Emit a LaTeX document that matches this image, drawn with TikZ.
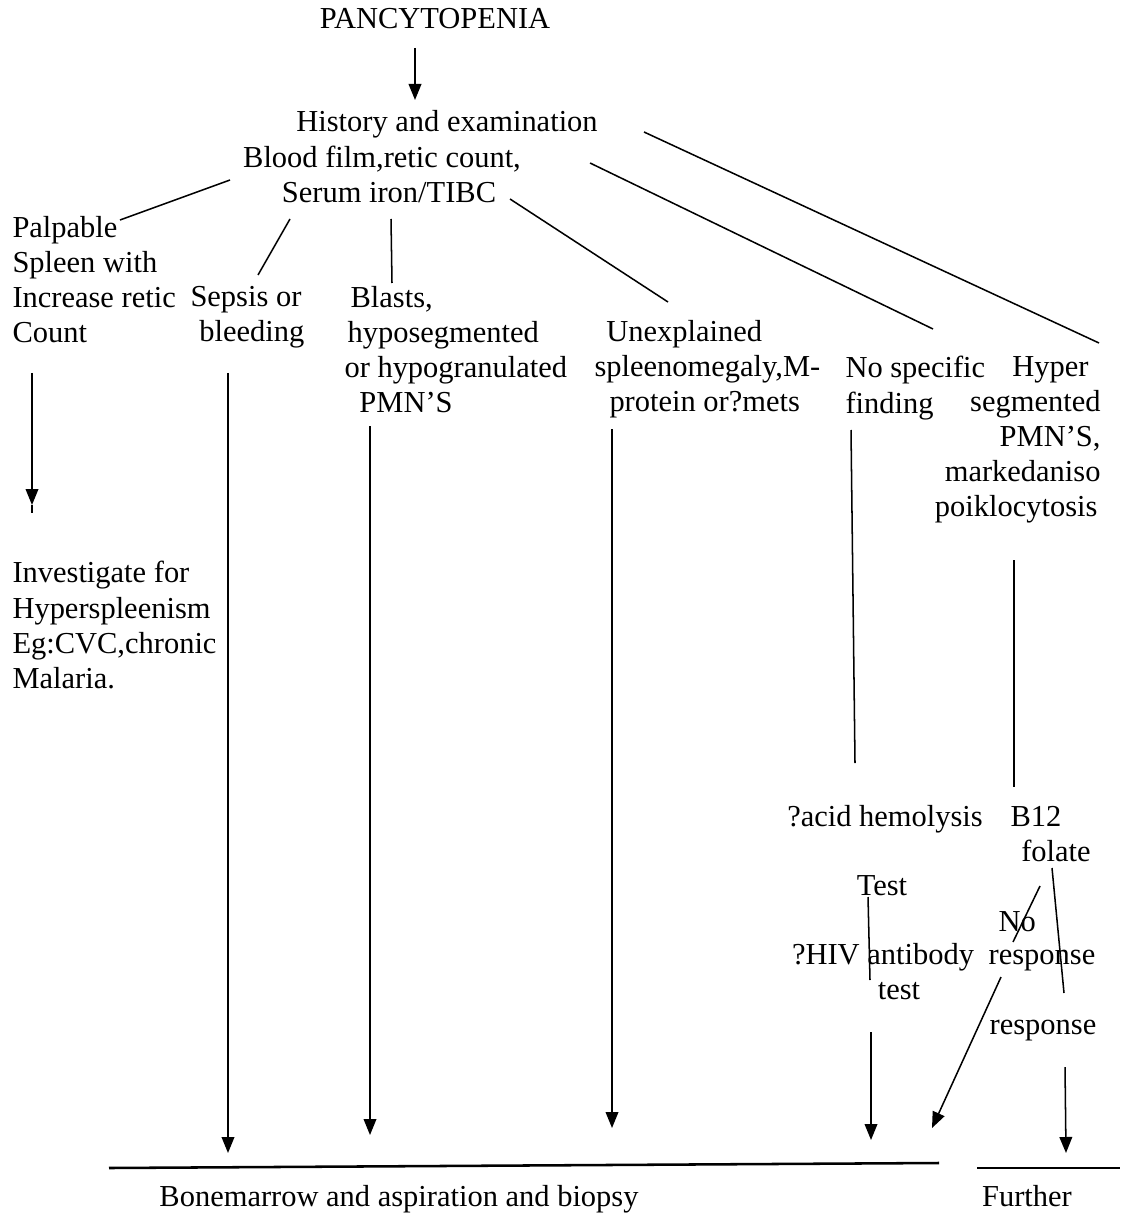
\documentclass[tikz,border=0pt]{standalone}
\usepackage{fontspec}
\setmainfont{Liberation Serif}
\usetikzlibrary{arrows.meta}
\begin{document}
\begin{tikzpicture}[x=0.39375pt, y=-0.39375pt,
  txt/.style={inner sep=0pt, font=\fontsize{12}{13.8}\selectfont},
  one/.style={txt, anchor=base},
  ln/.style={line width=0.6pt},
  arr/.style={line width=0.6pt, -{Triangle[length=6.3pt,width=5pt]}}]
\useasboundingbox (0,0) rectangle (1120,1215);
% text nodes
\node[one] (pan) at (435,29) {PANCYTOPENIA};
\node[one] (hist) at (447,132) {History and examination};
\node[one] (blood) at (382,168) {Blood film,retic count,};
\node[one] (serum) at (389,203) {Serum iron/TIBC};
\node[txt, anchor=north west, align=left] (palp) at (12,216) {Palpable\\Spleen with\\Increase retic\\Count};
\node[txt, anchor=north west, align=left] (sepsis) at (190,286) {Sepsis or\\\hspace*{3.5pt}bleeding};
\node[txt, anchor=north west, align=left] (blasts) at (344,286) {\hspace*{2.4pt}Blasts,\\\hspace*{1.2pt}hyposegmented\\or hypogranulated\\\hspace*{5.9pt}PMN'S};
\node[txt, anchor=north west, align=left] (unexpl) at (594,320) {\hspace*{4.7pt}Unexplained\\spleenomegaly,M-\\\hspace*{5.9pt}protein or?mets};
\node[txt, anchor=north west, align=left] (nospec) at (845,356) {No specific\\finding};
\node[txt, anchor=north east, align=right] (hyper) at (1101,356) {Hyper\hspace*{4.7pt}\\segmented\\PMN'S,\hspace*{7.5pt}\\markedaniso\hspace*{2pt}\\poiklocytosis\hspace*{1.2pt}};
\node[txt, anchor=north west, align=left] (invest) at (12,561) {Investigate for\\Hyperspleenism\\Eg:CVC,chronic\\Malaria.};
\node[one] (acid) at (885,826) {?acid hemolysis};
\node[one] (b12) at (1036,826) {B12};
\node[one] (folate) at (1056,861) {folate};
\node[one] (testA) at (882,895) {Test};
\node[txt, anchor=base west] (no) at (998,931) {No};
\node[one] (hiv) at (883,964) {?HIV antibody};
\node[one] (noresp) at (1042,964) {response};
\node[one] (testb) at (899,999) {test};
\node[one] (resp) at (1043,1034) {response};
\node[one] (bm) at (399,1206) {Bonemarrow and aspiration and biopsy};
\node[one] (further) at (1027,1206) {Further};
% connector end points
\coordinate (a1) at (415,48);   \coordinate (a2) at (415,100);
\coordinate (p1) at (230,180);  \coordinate (p2) at (120,220);
\coordinate (s1) at (290,219);  \coordinate (s2) at (258,275);
\coordinate (b1) at (391,219);  \coordinate (b2) at (392,283);
\coordinate (u1) at (510,199);  \coordinate (u2) at (668,302);
\coordinate (n1) at (590,163);  \coordinate (n2) at (933,329);
\coordinate (h1) at (644,132);  \coordinate (h2) at (1099,343);
\coordinate (pa1) at (32,373);  \coordinate (pa2) at (32,505); \coordinate (pa3) at (32,513);
\coordinate (sa1) at (228,373); \coordinate (sa2) at (228,1153);
\coordinate (ba1) at (370,426); \coordinate (ba2) at (370,1135);
\coordinate (ua1) at (612,429); \coordinate (ua2) at (612,1128);
\coordinate (nl1) at (851,430); \coordinate (nl2) at (855,763);
\coordinate (hl1) at (1014,560); \coordinate (hl2) at (1014,787);
\coordinate (tl1) at (868,897); \coordinate (tl2) at (870,980);
\coordinate (ta1) at (871,1032); \coordinate (ta2) at (871,1140);
\coordinate (ns1) at (1040,886); \coordinate (ns2) at (1013,942);
\coordinate (nr1) at (1001,977); \coordinate (nr2) at (932,1128);
\coordinate (fl1) at (1052,868); \coordinate (fl2) at (1064,993);
\coordinate (ra1) at (1065,1067); \coordinate (ra2) at (1066,1153);
\coordinate (bl1) at (109,1168); \coordinate (bl2) at (939,1163);
\coordinate (fr1) at (977,1168); \coordinate (fr2) at (1120,1168);
% connectors
\draw[arr] (a1) -- (a2);
\draw[ln] (p1) -- (p2);
\draw[ln] (s1) -- (s2);
\draw[ln] (b1) -- (b2);
\draw[ln] (u1) -- (u2);
\draw[ln] (n1) -- (n2);
\draw[ln] (h1) -- (h2);
\draw[arr] (pa1) -- (pa2);
\draw[ln] (pa2) -- (pa3);
\draw[arr] (sa1) -- (sa2);
\draw[arr] (ba1) -- (ba2);
\draw[arr] (ua1) -- (ua2);
\draw[ln] (nl1) -- (nl2);
\draw[ln] (hl1) -- (hl2);
\draw[ln] (tl1) -- (tl2);
\draw[arr] (ta1) -- (ta2);
\draw[ln] (ns1) -- (ns2);
\draw[arr] (nr1) -- (nr2);
\draw[ln] (fl1) -- (fl2);
\draw[arr] (ra1) -- (ra2);
\draw[line width=1pt] (bl1) -- (bl2);
\draw[line width=1pt] (fr1) -- (fr2);
\end{tikzpicture}
\end{document}
